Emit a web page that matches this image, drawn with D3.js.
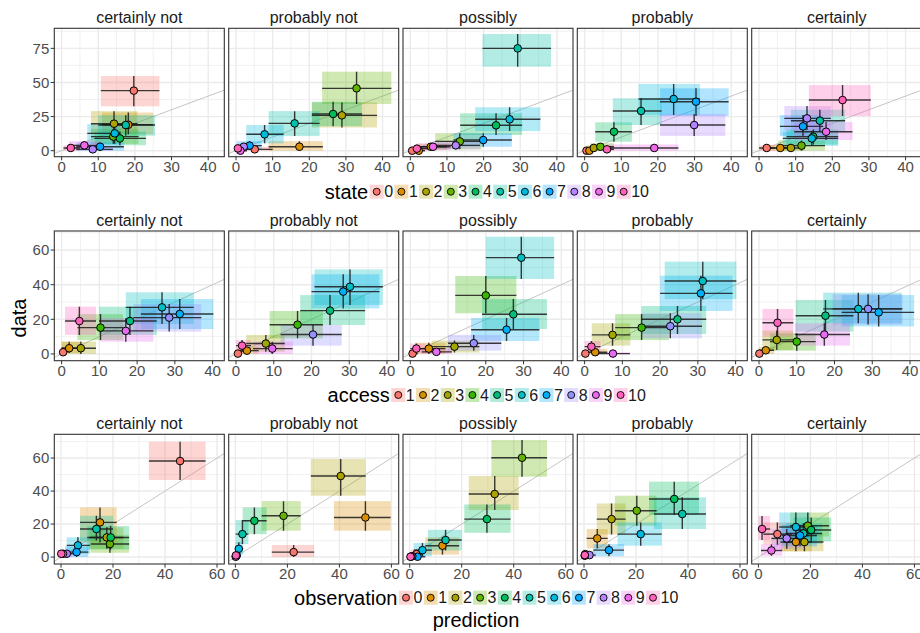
<!DOCTYPE html>
<html>
<head>
<meta charset="utf-8">
<script src="https://cdn.jsdelivr.net/npm/d3@7"></script>
<style>
  body { margin: 0; background: #fff; }
  text { font-family: "Liberation Sans", Arial, sans-serif; }
</style>
</head>
<body>
<svg id="chart" width="920" height="633"></svg>
<script>
// facet labels shared by every row
const facetNames = ["certainly not", "probably not", "possibly", "probably", "certainly"];

// ---- row 1: state (levels 0..10), one inner array per facet, index = level
const stateLevels = ["0","1","2","3","4","5","6","7","8","9","10"];
const stateX = [
  [19.7, 18.2, 14.3, 14.1, 15.9, 17.5, 14.5, 10.5, 8.5, 6.2, 2.5],
  [5.1, 17.3, 28.9, 32.9, 26.5, 16.0, 7.8, 3.7, 2.1, 1.2, 0.5],
  [0.5, 2.3, 5.6, 13.5, 23.4, 29.3, 27.1, 19.9, 12.4, 6.2, 1.8],
  [0.5, 1.3, 2.5, 4.3, 8.0, 15.4, 24.3, 30.4, 29.9, 19.0, 6.1],
  [2.1, 5.8, 8.7, 11.6, 14.8, 16.6, 14.4, 12.0, 13.1, 18.3, 22.8]
];
const stateY = [
  [44, 19, 19.8, 10.3, 9, 18.8, 12.7, 2.9, 1, 3.9, 2],
  [1, 2.9, 25.9, 45.7, 26.9, 20, 12, 3.7, 2.9, 0, 1.7],
  [0, 0, 2.9, 6.8, 18.6, 75, 23, 7.8, 3.9, 2.9, 1.5],
  [0, 0, 2, 2.9, 13.9, 29.1, 37.9, 35.9, 18.8, 2, 1],
  [2, 2, 2, 3.7, 10.3, 22, 9, 17.8, 23.7, 13.9, 37.1]
];
const stateXlo = [
  [10.7, 11, 8, 8, 9, 10, 7, 4, 4, 2, 0.5],
  [1, 8.9, 20.7, 23.5, 20.7, 8.9, 2.8, 0.2, 0, 0, 0],
  [0, 0.5, 1.5, 6.8, 13.6, 19.7, 17.7, 11.8, 6, 2, 0],
  [0, 0, 0.5, 1.5, 2.9, 7.7, 14.7, 20.6, 20.6, 6.1, 2],
  [0, 2.5, 5, 5.3, 7.5, 8.7, 6.5, 5.7, 6.9, 9.6, 13.6]
];
const stateXhi = [
  [26.7, 25, 20.7, 21, 23, 25.5, 16, 17, 14, 11, 5],
  [10, 23.7, 38.5, 42.4, 34.4, 22.8, 13, 7, 5, 3, 2],
  [2, 4, 10, 19.5, 30.5, 38.4, 35.5, 27.7, 19, 11, 6],
  [1.5, 3, 5, 8, 12.9, 21, 31.5, 39.3, 38.4, 25.6, 8],
  [4.5, 9, 12.5, 18, 21.6, 23.5, 21.6, 17.5, 19.6, 25.5, 30.5]
];
const stateYlo = [
  [32.5, 12, 12.7, 5, 4, 11, 5, 0, 0, 1, 0],
  [0, 0, 17, 34.2, 18, 10.7, 5.4, 1, 0.5, 0, 0],
  [0, 0, 0.5, 1, 11.5, 61.6, 14.4, 2.9, 1, 0.5, 0],
  [0, 0, 0, 0.5, 6.6, 18.8, 26.1, 25.4, 10.7, 0, 0],
  [0, 0, 0, 0, 4.5, 14, 3.5, 10.7, 15.1, 7.8, 25.4]
];
const stateYhi = [
  [54.7, 28, 29, 16, 14, 26, 19.5, 6, 3, 7, 4],
  [3, 7, 35.4, 57.9, 35.9, 29, 18.8, 7, 5, 1.5, 3.5],
  [1, 1, 5, 12.7, 27.4, 85.5, 31.8, 12.7, 7, 5.5, 3.5],
  [1, 1, 4, 5.5, 20.8, 38.4, 48.9, 45.7, 26.9, 4.6, 2.5],
  [4, 4, 4.5, 7.5, 15.5, 30, 14, 26.1, 32.7, 21, 48.1]
];
const stateXTicks = [0, 10, 20, 30, 40];
const stateYTicks = [0, 25, 50, 75];

// ---- row 2: access (levels 1..10)
const accessLevels = ["1","2","3","4","5","6","7","8","9","10"];
const accessX = [
  [0.4, 2, 5.1, 10.3, 18.1, 26.6, 31.3, 28.5, 17, 4.7],
  [0.5, 2.9, 7.9, 16.3, 24.9, 30.2, 28.4, 20.4, 9.6, 1.6],
  [0.6, 4.9, 11.7, 20, 27.3, 29.4, 25.5, 16.8, 6.9, 1.6],
  [0.2, 2.8, 7.4, 15.1, 24.6, 31.3, 30.8, 22.7, 7.5, 1.8],
  [0.1, 1.8, 4.7, 10, 17.6, 26.3, 31.7, 28.9, 17.3, 4.9]
];
const accessY = [
  [1, 3.3, 3.3, 15.2, 19, 26.9, 23.1, 21, 13.3, 19],
  [0.2, 1.9, 6, 16.9, 25, 38.8, 36, 11.2, 3.1, 4.8],
  [0.2, 3.1, 4.2, 33.8, 22.9, 55.6, 14, 6.2, 1.2, 3.1],
  [0.2, 1, 11, 15.2, 20, 42.1, 35, 16, 0.2, 4.2],
  [0.2, 2.1, 8.1, 7.1, 22.1, 26, 24, 26, 11.2, 18]
];
const accessXlo = [
  [0, 0, 0, 4.2, 9.9, 17, 21, 19, 10.2, 0.9],
  [0, 0.5, 2.7, 8.9, 17, 20.8, 20, 11.8, 4.5, 0],
  [0, 1.3, 5.7, 11.9, 19, 20, 16.1, 10, 3, 0],
  [0, 0.5, 1.9, 8.1, 15, 21.2, 20, 15.2, 3, 0],
  [0, 0, 0.9, 2.9, 9.7, 17, 21.9, 19.5, 9.5, 0.9]
];
const accessXhi = [
  [1.5, 5, 9.1, 16.3, 25.2, 35, 40.2, 37, 24.3, 9.1],
  [1.5, 6, 12.9, 23, 34.2, 38.9, 38, 28, 15, 4],
  [2, 9.3, 18.3, 28.1, 36.2, 38.1, 34.2, 24.1, 11, 4],
  [1, 6, 12.1, 22.3, 32.2, 40.2, 39.2, 31.1, 12, 4.2],
  [1, 4, 9, 15, 25, 37.8, 41.1, 38, 24.1, 9.1]
];
const accessYlo = [
  [0, 0.5, 0, 8, 11, 17.3, 14.4, 12.9, 7.1, 11],
  [0, 0, 1.3, 9, 16.7, 28.3, 26.3, 4.8, 0, 1],
  [0, 0, 0.8, 23.5, 14.4, 43.3, 7.5, 1.9, 0, 0.5],
  [0, 0, 4.8, 8, 11.5, 31.7, 24.8, 9, 0, 1],
  [0, 0, 2.3, 1.9, 12.9, 17.7, 15.9, 17, 4.8, 10]
];
const accessYhi = [
  [2.5, 7, 7.1, 23, 27.3, 35.6, 31.7, 28.8, 20.6, 27.3],
  [1, 4, 11, 24.8, 34, 48.8, 46, 16.7, 7.1, 8],
  [1, 6.5, 7.7, 45, 31.7, 67.7, 20.8, 11, 3, 6],
  [1, 3, 17.7, 23, 27.7, 53.3, 45.2, 23.5, 1, 7.5],
  [1, 4, 13.5, 12, 31.2, 35.4, 34, 34.5, 17.7, 26]
];
const accessXTicks = [0, 10, 20, 30, 40];
const accessYTicks = [0, 20, 40, 60];

// ---- row 3: observation (levels 0..10)
const obsLevels = ["0","1","2","3","4","5","6","7","8","9","10"];
const obsX = [
  [45.8, 15, 17.6, 18.8, 19.1, 13.6, 6.5, 6, 2.2, 0.8, 0.1],
  [22.4, 50, 40.5, 18.5, 7.3, 2.7, 1.3, 0.5, 0.3, 0.1, 0.2],
  [2.6, 12.6, 32.7, 43.2, 29.7, 13.8, 4.9, 3, 1, 0.5, 0.3],
  [0.5, 5.1, 10.6, 20.3, 34.7, 37.8, 21.8, 9.6, 2.1, 0.3, 0.3],
  [7.3, 14.4, 17.7, 19, 20.3, 17.3, 14.4, 16, 10.9, 5, 1.4]
];
const obsY = [
  [58.2, 21, 11.9, 7.9, 11.9, 17, 7.1, 3, 2, 2, 2],
  [3, 24, 49.1, 25, 22, 13.9, 5, 1, 0.5, 0.2, 1],
  [1.8, 6.9, 38.2, 60.2, 23, 10.3, 4.2, 0.2, 0.5, 0.3, 0.2],
  [1.8, 11.3, 23, 28.1, 35.2, 26.1, 13.9, 4.2, 1.2, 0.8, 1.2],
  [13.9, 9.1, 9.1, 19, 16.4, 14.3, 18.2, 13.1, 11.3, 4, 17]
];
const obsXlo = [
  [33.8, 7.3, 11, 11.4, 10.1, 7.3, 2.2, 1.5, 0, 0, 0],
  [14, 37.9, 29, 10.1, 2.8, 0.1, 0, 0, 0, 0, 0],
  [0.5, 6, 22.7, 31.4, 21, 7, 1.5, 0.5, 0, 0, 0],
  [0, 1, 4.9, 11.9, 25, 26.9, 12.9, 3.6, 0, 0, 0],
  [1.9, 8.5, 9.6, 12.2, 13.5, 10.5, 8, 9, 5, 1, 0]
];
const obsXhi = [
  [55.6, 21.4, 24, 26.2, 26.2, 20, 11.2, 10.5, 4.5, 2, 1],
  [30.3, 59.7, 50.1, 25.1, 12, 5, 3, 2, 1, 0.5, 1],
  [5, 19, 41.9, 52.8, 38.8, 20, 8.5, 6, 2.5, 1.5, 1],
  [1.5, 9.1, 16, 27.9, 44.2, 46.9, 29.9, 15.4, 4.5, 1, 1],
  [12.8, 20.5, 25, 27.2, 28, 24.5, 19.7, 22.5, 17, 9.2, 4.5]
];
const obsYlo = [
  [46.7, 8.9, 5, 2.6, 4.6, 10, 2, 0, 0, 0, 0],
  [0, 16, 37.2, 16, 13.9, 7.9, 1.5, 0, 0, 0, 0],
  [0, 1.5, 28.5, 48.7, 14.7, 4, 0.5, 0, 0, 0, 0],
  [0, 5.3, 13.7, 19, 25.5, 17, 6.9, 0.5, 0, 0, 0],
  [7.5, 3.5, 3.5, 12.5, 9.5, 8, 8.5, 6.5, 5, 0.8, 10.4]
];
const obsYhi = [
  [69.9, 30.1, 18, 13.3, 18.8, 25, 12, 6.5, 4, 4, 4],
  [7.3, 33.9, 59.4, 33.9, 30.1, 22.4, 9, 3, 1.5, 1, 2.5],
  [4.5, 12, 49.1, 70.9, 31.9, 16.5, 8.5, 2, 1.5, 1, 1],
  [3.5, 17, 32.5, 37.2, 45.7, 36.2, 21, 7.8, 3, 2, 2.5],
  [21, 14.5, 14, 27, 24, 20.5, 27, 19.5, 17, 7.7, 24.9]
];
const obsXTicks = [0, 20, 40, 60];
const obsYTicks = [0, 20, 40, 60];

// ggplot default hue palettes
const hue11 = ["#F8766D","#DB8E00","#AEA200","#64B200","#00BD5C","#00C1A7","#00BADE","#00A6FF","#B385FF","#EF67EB","#FF63B6"];
const hue10 = ["#F8766D","#D89000","#A3A500","#39B600","#00BF7D","#00BFC4","#00B0F6","#9590FF","#E76BF3","#FF62BC"];

const svg = d3.select("#chart");
const panelLeft = [54.3, 228.7, 403, 577.3, 751.7];
const panelW = 170;

const rows = [
  {title: "state", levels: stateLevels, colors: hue11,
   xs: stateX, ys: stateY, xlo: stateXlo, xhi: stateXhi, ylo: stateYlo, yhi: stateYhi,
   xTicks: stateXTicks, yTicks: stateYTicks,
   top: 28.3, bottom: 156.7, xDomain: [-2.0, 44.4], yDomain: [-4.4, 89.7],
   legendX: 376.7, legendY: 191.7},
  {title: "access", levels: accessLevels, colors: hue10,
   xs: accessX, ys: accessY, xlo: accessXlo, xhi: accessXhi, ylo: accessYlo, yhi: accessYhi,
   xTicks: accessXTicks, yTicks: accessYTicks,
   top: 231, bottom: 360.7, xDomain: [-1.94, 43.1], yDomain: [-3.9, 71],
   legendX: 398.3, legendY: 395},
  {title: "observation", levels: obsLevels, colors: hue11,
   xs: obsX, ys: obsY, xlo: obsXlo, xhi: obsXhi, ylo: obsYlo, yhi: obsYhi,
   xTicks: obsXTicks, yTicks: obsYTicks,
   top: 434.3, bottom: 564, xDomain: [-2.58, 62.8], yDomain: [-4.2, 74.4],
   legendX: 406, legendY: 597.7}
];

function minorOf(ticks, domain) {
  let step = ticks[1] - ticks[0];
  let out = [];
  for (let v = ticks[0] - step / 2; v <= domain[1]; v += step) {
    if (v >= domain[0]) out.push(v);
  }
  return out;
}

rows.forEach((row, r) => {
  let h = row.bottom - row.top;
  let x = d3.scaleLinear().domain(row.xDomain).range([0, panelW]);
  let y = d3.scaleLinear().domain(row.yDomain).range([h, 0]);
  let xMinor = minorOf(row.xTicks, row.xDomain);
  let yMinor = minorOf(row.yTicks, row.yDomain);

  facetNames.forEach((facet, p) => {
    let g = svg.append("g")
      .attr("transform", "translate(" + panelLeft[p] + "," + row.top + ")");

    let clipId = "clip-" + r + "-" + p;
    g.append("clipPath").attr("id", clipId)
      .append("rect").attr("width", panelW).attr("height", h);

    // grid
    g.selectAll(".xminor").data(xMinor).enter().append("line")
      .attr("x1", d => x(d)).attr("x2", d => x(d)).attr("y1", 0).attr("y2", h)
      .attr("stroke", "#EBEBEB").attr("stroke-width", 0.7);
    g.selectAll(".yminor").data(yMinor).enter().append("line")
      .attr("y1", d => y(d)).attr("y2", d => y(d)).attr("x1", 0).attr("x2", panelW)
      .attr("stroke", "#EBEBEB").attr("stroke-width", 0.7);
    g.selectAll(".xmajor").data(row.xTicks).enter().append("line")
      .attr("x1", d => x(d)).attr("x2", d => x(d)).attr("y1", 0).attr("y2", h)
      .attr("stroke", "#EBEBEB").attr("stroke-width", 1.4);
    g.selectAll(".ymajor").data(row.yTicks).enter().append("line")
      .attr("y1", d => y(d)).attr("y2", d => y(d)).attr("x1", 0).attr("x2", panelW)
      .attr("stroke", "#EBEBEB").attr("stroke-width", 1.4);

    let data = row.levels.map((lv, i) => ({
      level: lv, color: row.colors[i],
      x: row.xs[p][i], y: row.ys[p][i],
      xlo: row.xlo[p][i], xhi: row.xhi[p][i],
      ylo: row.ylo[p][i], yhi: row.yhi[p][i]
    }));

    let plot = g.append("g").attr("clip-path", "url(#" + clipId + ")");

    // y = x reference
    let lo = Math.min(row.xDomain[0], row.yDomain[0]);
    let hi = Math.max(row.xDomain[1], row.yDomain[1]);
    plot.append("line")
      .attr("x1", x(lo)).attr("y1", y(lo)).attr("x2", x(hi)).attr("y2", y(hi))
      .attr("stroke", "#BEBEBE").attr("stroke-width", 0.9);

    plot.selectAll(".box").data(data).enter().append("rect")
      .attr("x", d => x(d.xlo)).attr("y", d => y(d.yhi))
      .attr("width", d => x(d.xhi) - x(d.xlo))
      .attr("height", d => y(d.ylo) - y(d.yhi))
      .attr("fill", d => d.color).attr("fill-opacity", 0.3);

    plot.selectAll(".hbar").data(data).enter().append("line")
      .attr("x1", d => x(d.xlo)).attr("x2", d => x(d.xhi))
      .attr("y1", d => y(d.y)).attr("y2", d => y(d.y))
      .attr("stroke", "#1a1a1a").attr("stroke-opacity", 0.85).attr("stroke-width", 1.4);
    plot.selectAll(".vbar").data(data).enter().append("line")
      .attr("x1", d => x(d.x)).attr("x2", d => x(d.x))
      .attr("y1", d => y(d.ylo)).attr("y2", d => y(d.yhi))
      .attr("stroke", "#1a1a1a").attr("stroke-opacity", 0.85).attr("stroke-width", 1.4);

    plot.selectAll(".point").data(data).enter().append("circle")
      .attr("cx", d => x(d.x)).attr("cy", d => y(d.y)).attr("r", 3.8)
      .attr("fill", d => d.color).attr("stroke", "#000").attr("stroke-width", 1);

    // border
    g.append("rect").attr("width", panelW).attr("height", h)
      .attr("fill", "none").attr("stroke", "#333").attr("stroke-width", 1.1);

    // strip title
    g.append("text").attr("x", panelW / 2).attr("y", -5)
      .attr("text-anchor", "middle").attr("font-size", 16).attr("fill", "#1a1a1a")
      .text(facet);

    // x axis
    let xAxis = g.append("g").attr("transform", "translate(0," + h + ")");
    xAxis.selectAll("line").data(row.xTicks).enter().append("line")
      .attr("x1", d => x(d)).attr("x2", d => x(d)).attr("y1", 0).attr("y2", 3.6)
      .attr("stroke", "#333").attr("stroke-width", 1);
    xAxis.selectAll("text").data(row.xTicks).enter().append("text")
      .attr("x", d => x(d)).attr("y", 15)
      .attr("text-anchor", "middle").attr("font-size", 15).attr("fill", "#4D4D4D")
      .text(d => d);

    if (p === 0) {
      let yAxis = g.append("g");
      yAxis.selectAll("line").data(row.yTicks).enter().append("line")
        .attr("x1", -3.6).attr("x2", 0).attr("y1", d => y(d)).attr("y2", d => y(d))
        .attr("stroke", "#333").attr("stroke-width", 1);
      yAxis.selectAll("text").data(row.yTicks).enter().append("text")
        .attr("x", -5).attr("y", d => y(d)).attr("dy", "0.35em")
        .attr("text-anchor", "end").attr("font-size", 15).attr("fill", "#4D4D4D")
        .text(d => d);
    }
  });

  // legend
  let lg = svg.append("g");
  lg.append("text").attr("x", row.legendX - 8.5).attr("y", row.legendY).attr("dy", "0.35em")
    .attr("text-anchor", "end").attr("font-size", 20).attr("fill", "#000")
    .text(row.title);
  let keys = lg.selectAll(".key").data(row.levels).enter().append("g")
    .attr("transform", (d, i) => "translate(" + (row.legendX + i * 24.7) + "," + row.legendY + ")");
  keys.append("rect").attr("x", -7).attr("y", -7).attr("width", 14).attr("height", 14)
    .attr("fill", (d, i) => row.colors[i]).attr("fill-opacity", 0.3);
  keys.append("circle").attr("r", 3.5)
    .attr("fill", (d, i) => row.colors[i]).attr("stroke", "#000").attr("stroke-width", 0.9);
  keys.append("text").attr("x", 7.5).attr("dy", "0.35em")
    .attr("font-size", 16).attr("fill", "#1a1a1a").text(d => d);
});

// axis titles
svg.append("text")
  .attr("transform", "translate(26,318) rotate(-90)")
  .attr("text-anchor", "middle").attr("font-size", 20).attr("fill", "#000")
  .text("data");
svg.append("text").attr("x", 476).attr("y", 627)
  .attr("text-anchor", "middle").attr("font-size", 20).attr("fill", "#000")
  .text("prediction");
</script>
</body>
</html>
